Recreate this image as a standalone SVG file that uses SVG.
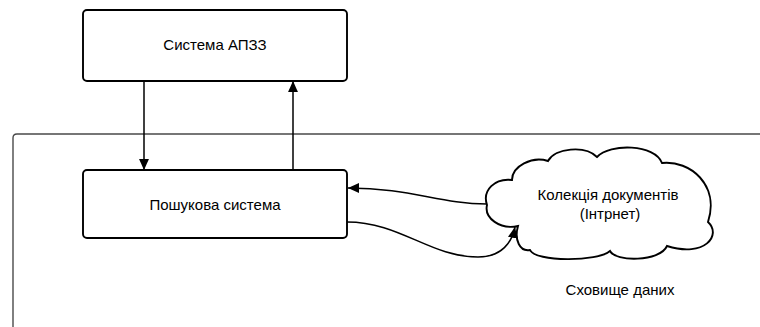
<svg xmlns="http://www.w3.org/2000/svg" width="760" height="327" viewBox="0 0 760 327">
  <style>
    .box { fill: #ffffff; stroke: #000000; stroke-width: 1.9; }
    .frame { fill: none; stroke: #4a4a4a; stroke-width: 1.4; }
    .link { fill: none; stroke: #000000; stroke-width: 1.5; marker-end: url(#arrow); }
    .label { font-family: "Liberation Sans", Arial, sans-serif; font-size: 15px; fill: #000000; text-anchor: middle; }
  </style>
  <defs>
    <marker id="arrow" markerUnits="userSpaceOnUse" markerWidth="11" markerHeight="11" viewBox="0 0 10 10" refX="10" refY="5" orient="auto">
      <path d="M0,0.5 L10,5 L0,9.5 Z" fill="#000000"/>
    </marker>
  </defs>

  <rect width="760" height="327" fill="#ffffff"/>

  <!-- data storage area -->
  <g id="storage">
    <path class="frame" d="M13,327 V138 Q13,134 17,134 H760"/>
    <text class="label" x="620" y="295">Сховище даних</text>
  </g>

  <g id="apzz">
    <rect class="box" x="83" y="10" width="264" height="71" rx="4"/>
    <text class="label" x="215" y="50">Система АПЗЗ</text>
  </g>

  <g id="search">
    <rect class="box" x="83" y="170" width="264" height="68" rx="4"/>
    <text class="label" x="215" y="210">Пошукова система</text>
  </g>

  <g id="collection">
    <path class="box" d="M487,205
      C482,190 495,178 512,180
      C512,166 532,156 548,161
      C555,148 585,145 597,157
      C610,143 655,144 662,163
      C690,160 720,185 708,222
      C722,235 705,258 667,246
      C660,262 615,262 610,251
      C598,262 535,262 530,250
      C520,252 514,240 518,226
      C500,230 484,218 487,205 Z"/>
    <text class="label" x="608" y="200">Колекція документів</text>
    <text class="label" x="610" y="219">(Інтрнет)</text>
  </g>

  <g id="connectors">
    <path class="link" d="M144,81 V170"/>
    <path class="link" d="M293,170 V81"/>
    <path class="link" d="M487,204 C440,204 410,188 348,188"/>
    <path class="link" d="M347,222 C400,222 430,257 478,257 C502,257 512,242 515,227"/>
  </g>
</svg>
